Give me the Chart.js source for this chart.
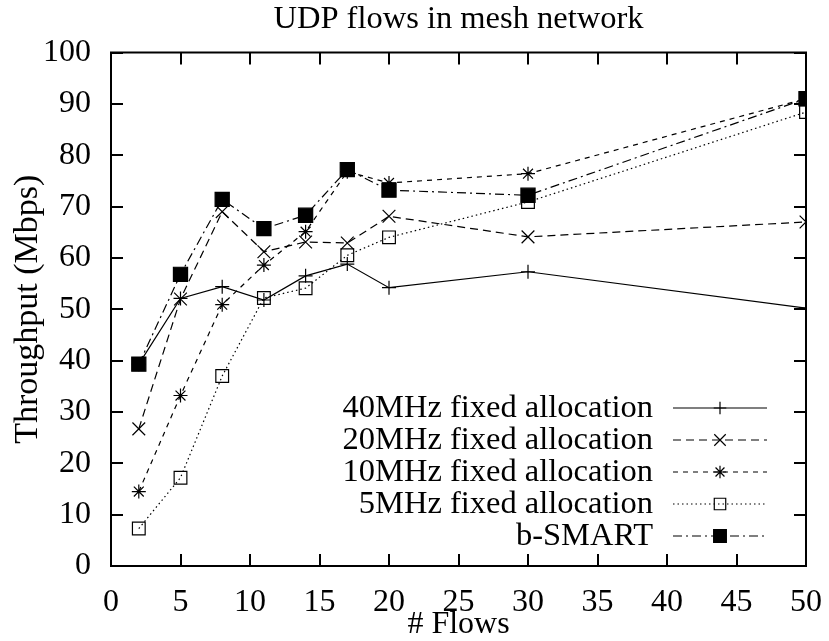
<!DOCTYPE html>
<html>
<head>
<meta charset="utf-8">
<script src="https://cdn.jsdelivr.net/npm/chart.js@4/dist/chart.umd.min.js"></script>
<style>
  html, body { margin: 0; padding: 0; background: #fff; }
  #wrap { width: 829px; height: 641px; }
</style>
</head>
<body>
<div id="wrap"><canvas id="c" width="829" height="641"></canvas></div>
<script>
// Number of concurrent UDP flows
const flows = [2, 5, 8, 11, 14, 17, 20, 30, 50];

// Aggregate throughput (Mbps) per scheme
const fixed40 = [39.3, 52.1, 54.4, 51.8, 56.5, 58.8, 54.2, 57.3, 50.2];
const fixed20 = [26.7, 52.0, 69.0, 61.2, 63.1, 62.9, 68.1, 64.1, 67.0];
const fixed10 = [14.5, 33.2, 50.9, 58.6, 65.1, 76.8, 74.6, 76.4, 91.0];
const fixed5  = [7.3, 17.2, 37.0, 52.2, 54.1, 60.5, 64.0, 70.9, 88.4];
const bSmart  = [39.3, 56.8, 71.4, 65.7, 68.3, 77.2, 73.2, 72.2, 91.0];

const seriesLabels = [
  '40MHz fixed allocation',
  '20MHz fixed allocation',
  '10MHz fixed allocation',
  '5MHz fixed allocation',
  'b-SMART'
];

const xTicks = [0, 5, 10, 15, 20, 25, 30, 35, 40, 45, 50];
const yTicks = [0, 10, 20, 30, 40, 50, 60, 70, 80, 90, 100];

const FONT = 'Liberation Serif, Times New Roman, serif';
Chart.defaults.font.family = FONT;
Chart.defaults.font.size = 32;
Chart.defaults.color = '#000';

const toPoints = ys => ys.map((y, i) => ({ x: flows[i], y }));

// style per series: dash pattern, marker, marker size, fill
const styles = [
  { dash: [],           marker: 'cross',    r: 7,  fill: 'rgba(0,0,0,0)' },
  { dash: [8, 5],       marker: 'crossRot', r: 9,  fill: 'rgba(0,0,0,0)' },
  { dash: [5, 5],       marker: 'star',     r: 7,  fill: 'rgba(0,0,0,0)' },
  { dash: [1.5, 3],     marker: 'rect',     r: 9,  fill: 'rgba(0,0,0,0)' },
  { dash: [9, 4, 2, 4], marker: 'rect',     r: 10, fill: '#000' }
];
const values = [fixed40, fixed20, fixed10, fixed5, bSmart];

const datasets = values.map((vals, i) => ({
  label: seriesLabels[i],
  data: toPoints(vals),
  borderColor: '#000',
  borderWidth: 1.2,
  borderDash: styles[i].dash,
  pointStyle: styles[i].marker,
  pointRadius: styles[i].r,
  pointHoverRadius: styles[i].r,
  pointBorderWidth: 1.2,
  pointBorderColor: '#000',
  pointBackgroundColor: styles[i].fill,
  backgroundColor: styles[i].fill,
  fill: false,
  tension: 0,
  order: 5 - i
}));

// Small marker painter for the in-plot key
function drawMarker(ctx, style, r, x, y, fill) {
  ctx.save();
  ctx.setLineDash([]);
  ctx.lineWidth = 1.2;
  ctx.strokeStyle = '#000';
  ctx.fillStyle = fill;
  ctx.beginPath();
  const d = r * Math.SQRT1_2;
  if (style === 'cross' || style === 'star') {
    ctx.moveTo(x - r, y); ctx.lineTo(x + r, y);
    ctx.moveTo(x, y - r); ctx.lineTo(x, y + r);
  }
  if (style === 'crossRot' || style === 'star') {
    ctx.moveTo(x - d, y - d); ctx.lineTo(x + d, y + d);
    ctx.moveTo(x - d, y + d); ctx.lineTo(x + d, y - d);
  }
  if (style === 'rect') {
    ctx.rect(x - d, y - d, 2 * d, 2 * d);
    ctx.fill();
  }
  ctx.stroke();
  ctx.restore();
}

// Border box with inward ticks on all four sides, plus the key inside the plot
const framePlugin = {
  id: 'frameAndKey',
  afterDatasetsDraw(chart) {
    const { ctx, chartArea: a, scales } = chart;
    const xs = scales.x, ys = scales.y;
    const tl = 12;
    ctx.save();
    ctx.strokeStyle = '#000';
    ctx.lineWidth = 2;
    ctx.setLineDash([]);
    ctx.beginPath();
    xTicks.forEach(v => {
      const px = Math.round(xs.getPixelForValue(v));
      ctx.moveTo(px, a.bottom); ctx.lineTo(px, a.bottom - tl);
      ctx.moveTo(px, a.top); ctx.lineTo(px, a.top + tl);
    });
    yTicks.forEach(v => {
      const py = Math.round(ys.getPixelForValue(v));
      ctx.moveTo(a.left, py); ctx.lineTo(a.left + tl, py);
      ctx.moveTo(a.right, py); ctx.lineTo(a.right - tl, py);
    });
    ctx.stroke();
    ctx.strokeRect(a.left, a.top, a.right - a.left, a.bottom - a.top);

    // key
    const textRight = 653, lineL = 673, lineR = 767, markX = 720;
    const row0 = 408, rowH = 32;
    ctx.font = '32.5px ' + FONT;
    ctx.textAlign = 'right';
    ctx.textBaseline = 'middle';
    ctx.fillStyle = '#000';
    seriesLabels.forEach((lab, i) => {
      const y = row0 + i * rowH;
      ctx.fillText(lab, textRight, y);
      ctx.save();
      ctx.lineWidth = 1.2;
      ctx.setLineDash(styles[i].dash);
      ctx.beginPath();
      ctx.moveTo(lineL, y); ctx.lineTo(lineR, y);
      ctx.stroke();
      ctx.restore();
      drawMarker(ctx, styles[i].marker, styles[i].r * 0.9, markX, y, styles[i].fill);
    });
    ctx.restore();
  }
};

new Chart(document.getElementById('c'), {
  type: 'line',
  data: { datasets },
  options: {
    responsive: false,
    animation: false,
    events: [],
    layout: { padding: { left: 0, right: 23, top: 0, bottom: 0 } },
    plugins: {
      legend: { display: false },
      tooltip: { enabled: false },
      title: {
        display: true,
        fullSize: false,
        text: 'UDP flows in mesh network',
        font: { size: 32.5, weight: 'normal', lineHeight: 1.0 },
        color: '#000',
        padding: { top: 3, bottom: 17 }
      }
    },
    scales: {
      x: {
        type: 'linear',
        min: 0, max: 50,
        afterBuildTicks: s => { s.ticks = xTicks.map(v => ({ value: v })); },
        afterFit: s => { s.height = 75; s.paddingLeft = 0; s.paddingRight = 0; },
        grid: { display: false, drawTicks: false },
        border: { display: false },
        ticks: { padding: 21, font: { size: 32, lineHeight: 1.0 }, maxRotation: 0, autoSkip: false },
        title: {
          display: true,
          text: '# Flows',
          font: { size: 32, lineHeight: 1.0 },
          padding: { top: 0, bottom: 0 }
        }
      },
      y: {
        type: 'linear',
        min: 0, max: 100,
        afterBuildTicks: s => { s.ticks = yTicks.map(v => ({ value: v })); },
        afterFit: s => { s.width = 111; s.paddingTop = 0; s.paddingBottom = 0; },
        grid: { display: false, drawTicks: false },
        border: { display: false },
        ticks: { padding: 20, font: { size: 32, lineHeight: 1.0 }, autoSkip: false },
        title: {
          display: true,
          text: 'Throughput (Mbps)',
          font: { size: 34, lineHeight: 1.0 },
          padding: { top: 11, bottom: 0 }
        }
      }
    }
  },
  plugins: [framePlugin]
});
</script>
</body>
</html>
